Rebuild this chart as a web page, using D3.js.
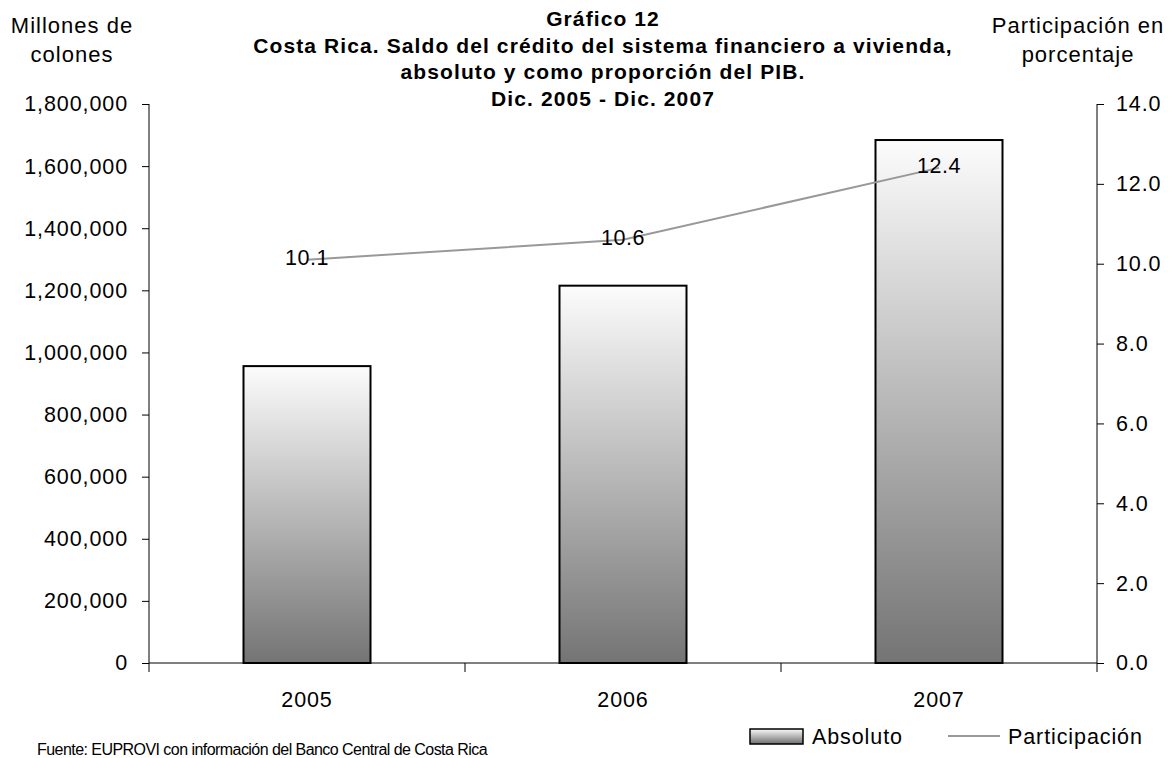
<!DOCTYPE html>
<html>
<head>
<meta charset="utf-8">
<script src="https://cdn.jsdelivr.net/npm/d3@7"></script>
<style>
  html, body { margin: 0; padding: 0; background: #fff; }
  svg { display: block; font-family: "Liberation Sans", Arial, sans-serif; }
</style>
</head>
<body>
<svg id="chart" width="1169" height="758"></svg>
<script>
// Credit balance to housing, absolute (millions of colones) and share of GDP (%)
const years = ["2005", "2006", "2007"];
const absoluto = [956000, 1215000, 1684000];
const participacion = [10.1, 10.6, 12.4];
const leftTicks = [0, 200000, 400000, 600000, 800000, 1000000, 1200000, 1400000, 1600000, 1800000];
const rightTicks = [0, 2, 4, 6, 8, 10, 12, 14];
const titleLines = [
  "Gráfico 12",
  "Costa Rica. Saldo del crédito del sistema financiero a vivienda,",
  "absoluto y como proporción del PIB.",
  "Dic. 2005 - Dic. 2007"
];

const svg = d3.select("#chart");
const plot = { left: 149, right: 1097, top: 104, bottom: 663 };
const FS = 21.5;    // general text size
const LS = 0.9;     // letter spacing for the wide chart lettering

const x = d3.scaleBand().domain(years).range([plot.left, plot.right]).paddingInner(0).paddingOuter(0);
const yL = d3.scaleLinear().domain([0, 1800000]).range([plot.bottom, plot.top]);
const yR = d3.scaleLinear().domain([0, 14]).range([plot.bottom, plot.top]);

const defs = svg.append("defs");
const grad = defs.append("linearGradient").attr("id", "barGrad")
  .attr("x1", 0).attr("y1", 0).attr("x2", 0).attr("y2", 1);
grad.append("stop").attr("offset", "0%").attr("stop-color", "#fcfcfc");
grad.append("stop").attr("offset", "100%").attr("stop-color", "#747474");

const legGrad = defs.append("linearGradient").attr("id", "legGrad")
  .attr("x1", 0).attr("y1", 0).attr("x2", 0).attr("y2", 1);
legGrad.append("stop").attr("offset", "0%").attr("stop-color", "#fafafa");
legGrad.append("stop").attr("offset", "100%").attr("stop-color", "#6e6e6e");

// Bars
const barW = 127;
svg.append("g").selectAll("rect").data(years).join("rect")
  .attr("x", d => x(d) + x.bandwidth() / 2 - barW / 2)
  .attr("y", (d, i) => yL(absoluto[i]))
  .attr("width", barW)
  .attr("height", (d, i) => plot.bottom - yL(absoluto[i]))
  .attr("fill", "url(#barGrad)")
  .attr("stroke", "#000")
  .attr("stroke-width", 2);

// Axes
const leftAxis = d3.axisLeft(yL).tickValues(leftTicks).tickSize(7).tickPadding(14)
  .tickFormat(d3.format(",.0f"));
const gL = svg.append("g").attr("transform", `translate(${plot.left},0)`).call(leftAxis);
gL.select(".domain").attr("d", `M0,${plot.top}V${plot.bottom + 9}`).attr("stroke", "#000");

const rightAxis = d3.axisRight(yR).tickValues(rightTicks).tickSize(7).tickPadding(12)
  .tickFormat(d3.format(".1f"));
const gR = svg.append("g").attr("transform", `translate(${plot.right},0)`).call(rightAxis);
gR.select(".domain").attr("d", `M0,${plot.top}V${plot.bottom + 9}`).attr("stroke", "#000");

const bottomAxis = d3.axisBottom(x).tickSize(0).tickPadding(29);
const gB = svg.append("g").attr("transform", `translate(0,${plot.bottom})`).call(bottomAxis);
gB.select(".domain").attr("d", `M${plot.left},0H${plot.right}`).attr("stroke", "#000");
// category separators
gB.selectAll(".sep").data(years.slice(1)).join("line")
  .attr("x1", d => x(d)).attr("x2", d => x(d)).attr("y1", 0).attr("y2", 9)
  .attr("stroke", "#000");

[gL, gR, gB].forEach(g => {
  g.selectAll(".tick line").attr("stroke", "#000");
  g.selectAll(".tick text").attr("font-size", FS).attr("fill", "#000")
    .attr("letter-spacing", LS)
    .attr("font-family", "Liberation Sans, Arial, sans-serif");
});

// Participation line
const line = d3.line()
  .x((d, i) => x(years[i]) + x.bandwidth() / 2)
  .y(d => yR(d));
svg.append("path").datum(participacion)
  .attr("d", line)
  .attr("fill", "none")
  .attr("stroke", "#999")
  .attr("stroke-width", 2);

svg.append("g").selectAll("text").data(participacion).join("text")
  .attr("x", (d, i) => x(years[i]) + x.bandwidth() / 2)
  .attr("y", d => yR(d) + 5.5)
  .attr("text-anchor", "middle")
  .attr("font-size", FS)
  .attr("letter-spacing", 0.5)
  .attr("fill", "#000")
  .text(d => d.toFixed(1));

// Title
svg.append("g").selectAll("text").data(titleLines).join("text")
  .attr("x", 603)
  .attr("y", (d, i) => 26 + i * 26.5)
  .attr("text-anchor", "middle")
  .attr("font-weight", "bold")
  .attr("font-size", 21)
  .attr("letter-spacing", 1.1)
  .text(d => d);

// Axis titles
const axisTitle = (cx, lines) => svg.append("g").selectAll("text").data(lines).join("text")
  .attr("x", cx).attr("y", (d, i) => 33 + i * 29)
  .attr("text-anchor", "middle").attr("font-size", 22).attr("letter-spacing", 1)
  .text(d => d);
axisTitle(72, ["Millones de", "colones"]);
axisTitle(1078, ["Participación en", "porcentaje"]);

// Legend
const leg = svg.append("g");
leg.append("rect").attr("x", 750).attr("y", 729).attr("width", 53).attr("height", 15)
  .attr("fill", "url(#legGrad)").attr("stroke", "#000").attr("stroke-width", 1.5);
leg.append("text").attr("x", 812).attr("y", 744).attr("font-size", FS)
  .attr("letter-spacing", LS).text("Absoluto");
leg.append("line").attr("x1", 948).attr("x2", 1000).attr("y1", 736).attr("y2", 736)
  .attr("stroke", "#999").attr("stroke-width", 2);
leg.append("text").attr("x", 1008).attr("y", 744).attr("font-size", FS)
  .attr("letter-spacing", LS).text("Participación");

// Source note
svg.append("text").attr("x", 37).attr("y", 755).attr("font-size", 16)
  .attr("letter-spacing", -0.55)
  .text("Fuente: EUPROVI con información del Banco Central de Costa Rica");
</script>
</body>
</html>
